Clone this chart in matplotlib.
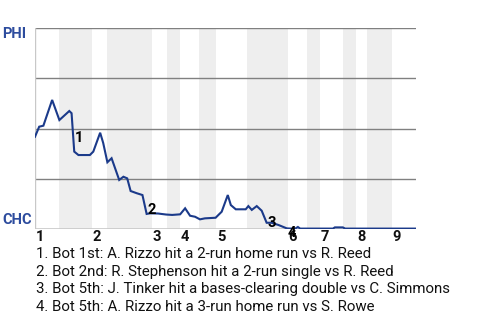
import matplotlib
matplotlib.use("Agg")
import matplotlib.pyplot as plt
import matplotlib.transforms as mtransforms

plt.rcParams['font.family'] = ['Roboto', 'DejaVu Sans']

# game progress (% of game) and Phillies win probability (%)
progress = [0.0, 1.1, 2.2, 4.5, 6.4, 9.0, 9.6, 10.3, 11.4, 14.4,
            15.3, 17.1, 17.9, 19.0, 20.1, 22.1, 23.2, 24.2, 25.1, 26.7,
            28.2, 29.3, 30.2, 32.3, 34.4, 36.0, 38.1, 39.4, 40.7, 42.0,
            43.3, 44.6, 47.4, 49.0, 50.6, 51.4, 52.7, 55.3, 56.0, 56.9,
            58.2, 59.5, 60.8, 62.1, 63.9, 66.1, 68.2, 69.0, 69.6, 78.2,
            78.7, 80.8, 81.4, 100.0]
phi_win = [45.9, 50.9, 51.4, 64.2, 54.2, 58.7, 57.6, 38.5, 36.8, 36.8,
           38.5, 47.9, 42.8, 33.2, 35.2, 24.4, 26.0, 25.2, 18.9, 17.8,
           16.9, 7.5, 7.8, 7.7, 7.2, 7.0, 7.3, 10.3, 6.6, 6.1,
           4.8, 5.3, 5.6, 8.6, 16.9, 11.9, 9.8, 9.8, 11.4, 9.5,
           11.4, 9.1, 3.1, 3.1, 2.0, 0.3, 0.1, 1.0, 0.2, 0.2,
           0.8, 0.8, 0.2, 0.2]

# start of each inning, and the bottom-half spans (shaded)
inning_start = [0.0, 15.0, 30.7, 38.1, 47.5, 66.4, 74.8, 84.3, 93.7]
inning_labels = ['1', '2', '3', '4', '5', '6', '7', '8', '9']
bottom_halves = [(6.3, 15.0), (18.9, 30.7), (34.6, 38.1), (43.0, 47.5),
                 (55.6, 66.4), (71.4, 74.8), (80.8, 84.3), (87.1, 93.7)]

# key plays: index of the point right after the swing
event_idx = [7, 21, 42, 45]
event_text = [
    "1. Bot 1st: A. Rizzo hit a 2-run home run vs R. Reed",
    "2. Bot 2nd: R. Stephenson hit a 2-run single vs R. Reed",
    "3. Bot 5th: J. Tinker hit a bases-clearing double vs C. Simmons",
    "4. Bot 5th: A. Rizzo hit a 3-run home run vs S. Rowe",
]

line_blue = '#1b3a8a'
team_blue = '#2d4c9e'

fig = plt.figure(figsize=(4.8, 3.2), dpi=100)
ax = fig.add_axes([35 / 480, 91 / 320, 381 / 480, 201 / 320])

for x0, x1 in bottom_halves:
    ax.axvspan(x0, x1, color='#eeeeee', lw=0, zorder=0)

for g in [25, 50, 75, 100]:
    ax.axhline(g, color='#808080', lw=1.0, zorder=1)
ax.axhline(0, color='#c8c8c8', lw=1.2, zorder=1)
ax.axvline(0, color='#c8c8c8', lw=1.0, zorder=1)

ax.plot(progress, phi_win, color=line_blue, lw=1.5, zorder=3,
        solid_joinstyle='miter')

for n, i in enumerate(event_idx, start=1):
    mid = (phi_win[i - 1] + phi_win[i]) / 2
    ax.annotate(str(n), xy=(progress[i], mid), xytext=(0.4, -4.3),
                textcoords='offset points', ha='left', va='center',
                fontsize=10.5, fontweight='bold', color='black', zorder=4)

ax.set_xlim(0, 100)
ax.set_ylim(0, 100)
ax.set_xticks([])
ax.set_yticks([])
for s in ax.spines.values():
    s.set_visible(False)

trans = mtransforms.blended_transform_factory(ax.transData, ax.transAxes)
for x, lab in zip(inning_start, inning_labels):
    ax.text(x + 0.2, -0.04, lab, transform=trans, ha='left', va='center',
            fontsize=10.5, fontweight='bold', color='#111111')

fig.text(2 / 480, (320 - 33.5) / 320, 'PHI', ha='left', va='center',
         fontsize=10.5, fontweight='bold', color=team_blue)
fig.text(2 / 480, (320 - 220) / 320, 'CHC', ha='left', va='center',
         fontsize=10.5, fontweight='bold', color=team_blue)

for k, txt in enumerate(event_text):
    fig.text(36 / 480, (320 - 258 - 17.7 * k) / 320, txt, ha='left',
             va='baseline', fontsize=10.8, color='#111111')

fig.savefig('out.png', dpi=100)
